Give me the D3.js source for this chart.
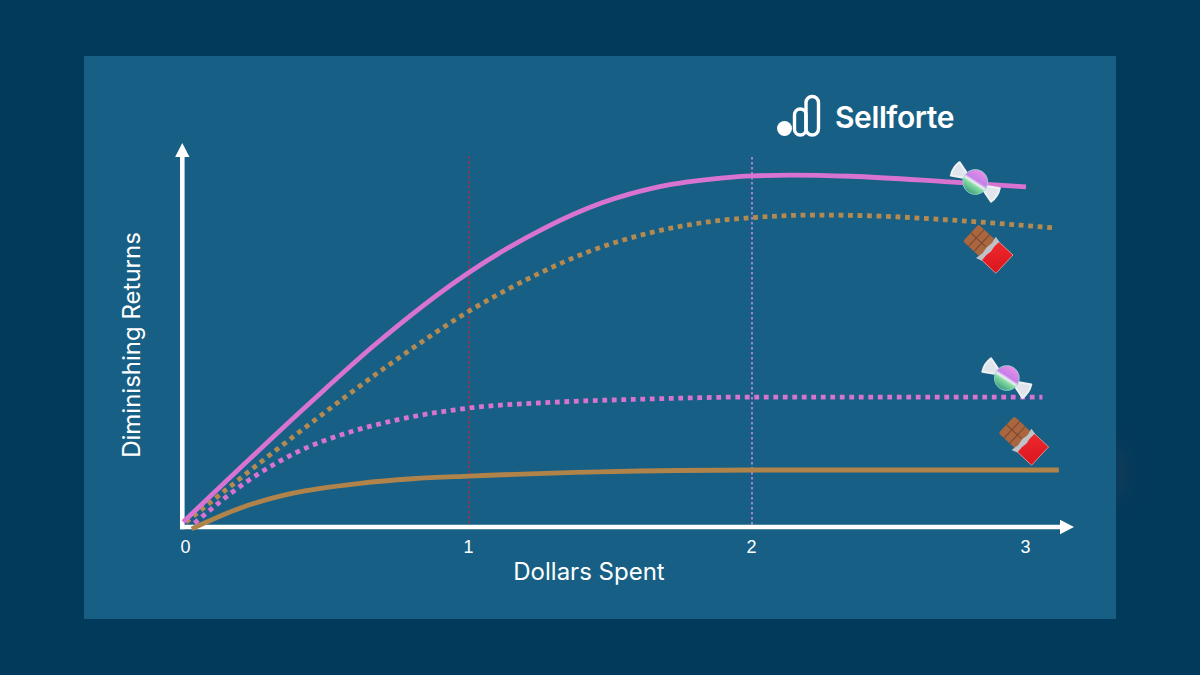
<!DOCTYPE html>
<html>
<head>
<meta charset="utf-8">
<script src="https://cdn.jsdelivr.net/npm/d3@7"></script>
<style>
    html, body { margin: 0; padding: 0; background: #023a5b; overflow: hidden; }
    text { fill: #fff; }
    .label { font-family: "Inter", sans-serif; font-size: 24px; font-weight: 400; }
    .tick text { font-family: "Liberation Sans", sans-serif; font-size: 18px; }
</style>
</head>
<body>
<div id="chart"></div>
<script>
// data
const tickValues = [0, 1, 2, 3];
const xLabel = "Dollars Spent";
const yLabel = "Diminishing Returns";
const brandName = "Sellforte";
const refLineValues = [1, 2];

const candySolidX = [-0.01, 0.43, 0.66, 1, 1.26, 1.47, 1.67, 1.89, 2, 2.14, 2.36, 2.72, 3];
const candySolidY = [1.3, 32.1, 47.5, 67, 78.4, 85.3, 89.5, 91.8, 92.4, 92.6, 92.3, 90.8, 89.5];

const chocoDottedX = [0, 0.378, 0.731, 1, 1.244, 1.428, 1.65, 1.816, 2.018, 2.23, 2.47, 2.72, 3.105];
const chocoDottedY = [1.3, 23.7, 43.4, 56.8, 66.6, 72.6, 77.6, 80, 81.5, 82.1, 81.8, 80.8, 78.7];

const candyDottedX = [0.03, 0.216, 0.392, 0.58, 0.746, 1, 1.32, 1.64, 2, 3.06];
const candyDottedY = [1, 12, 19.7, 25, 28.2, 31.3, 32.9, 33.7, 34.2, 34.2];

const chocoSolidX = [0.02, 0.2, 0.378, 0.615, 0.8, 1, 1.46, 2, 3.12];
const chocoSolidY = [-0.5, 5.2, 8.9, 11.5, 12.7, 13.4, 14.5, 15, 15];

// where the icons sit, in chart units
const candyIconX = [2.815, 2.93];
const candyIconY = [90.8, 39.2];
const chocoIconX = [2.86, 2.99];
const chocoIconY = [73.3, 22.8];

const width = 1200;
const height = 675;
const panel = { left: 84, top: 56, right: 1116, bottom: 619 };

const pink = "#d873d2";
const brown = "#b0834a";

const svg = d3
    .select("div#chart")
    .append("svg")
    .attr("width", width)
    .attr("height", height)
    .style("display", "block");

const defs = svg.append("defs");

defs.append("filter")
    .attr("id", "blur")
    .attr("x", "-100%").attr("y", "-100%")
    .attr("width", "300%").attr("height", "300%")
    .append("feGaussianBlur")
    .attr("stdDeviation", 10);

// background
svg.append("rect").attr("width", width).attr("height", height).attr("fill", "#023a5b");
svg.append("ellipse")
    .attr("cx", 1116).attr("cy", 472).attr("rx", 8).attr("ry", 28)
    .attr("fill", "#6b4650").attr("opacity", 0.22)
    .attr("filter", "url(#blur)");
svg.append("rect")
    .attr("x", panel.left)
    .attr("y", panel.top)
    .attr("width", panel.right - panel.left)
    .attr("height", panel.bottom - panel.top)
    .attr("fill", "#175f84");

// scales, the 3 tick sits closer in than the others
const x = d3.scaleLinear().domain(tickValues).range([186, 469, 752, 1026]);
const y = d3.scaleLinear().domain([0, 100]).range([527, 147]);

// reference lines
svg.selectAll(".refLine")
    .data(refLineValues)
    .enter()
    .append("line")
    .attr("class", "refLine")
    .attr("x1", (d) => x(d))
    .attr("x2", (d) => x(d))
    .attr("y1", (d) => (d === 1 ? 156 : 157))
    .attr("y2", y(0))
    .attr("stroke", (d) => (d === 1 ? "#a5304f" : "#c686e6"))
    .attr("stroke-width", 1.6)
    .attr("stroke-dasharray", "2.5,2.5");

// axes
const axisGroup = svg.append("g").attr("class", "axis");
axisGroup.append("line")
    .attr("x1", 182.3).attr("x2", 182.3)
    .attr("y1", 155).attr("y2", 529.3)
    .attr("stroke", "#fff").attr("stroke-width", 4.6);
axisGroup.append("line")
    .attr("x1", 180).attr("x2", 1062)
    .attr("y1", y(0)).attr("y2", y(0))
    .attr("stroke", "#fff").attr("stroke-width", 4.6);
axisGroup.append("path")
    .attr("d", "M182.3,143L189.5,157L175.1,157Z")
    .attr("fill", "#fff");
axisGroup.append("path")
    .attr("d", "M1074,527L1060,519.8L1060,534.2Z")
    .attr("fill", "#fff");

const xAxis = d3.axisBottom(x).tickValues(tickValues).tickFormat(d3.format("d")).tickSize(0).tickPadding(0);
const xAxisGroup = svg.append("g")
    .attr("class", "xAxisGroup")
    .attr("transform", `translate(-1,${y(0) + 13})`)
    .call(xAxis);
xAxisGroup.select(".domain").remove();
xAxisGroup.selectAll("text").attr("fill", "#fff");

// axis titles
svg.append("text")
    .attr("class", "label")
    .attr("x", 589)
    .attr("y", 580)
    .attr("text-anchor", "middle")
    .text(xLabel);
svg.append("text")
    .attr("class", "label")
    .attr("transform", "translate(140,345) rotate(-90)")
    .attr("text-anchor", "middle")
    .text(yLabel);

// curves
const line = d3
    .line()
    .x((d) => x(d[0]))
    .y((d) => y(d[1]))
    .curve(d3.curveMonotoneX);

const curves = [
    { xs: chocoSolidX, ys: chocoSolidY, color: brown, dash: null },
    { xs: candyDottedX, ys: candyDottedY, color: pink, dash: "4.8,4.7" },
    { xs: chocoDottedX, ys: chocoDottedY, color: "#b58a50", dash: "4.8,4.7" },
    { xs: candySolidX, ys: candySolidY, color: pink, dash: null },
];

svg.selectAll(".curve")
    .data(curves)
    .enter()
    .append("path")
    .attr("class", "curve")
    .attr("d", (d) => line(d.xs.map((v, i) => [v, d.ys[i]])))
    .attr("fill", "none")
    .attr("stroke", (d) => d.color)
    .attr("stroke-width", 4.8)
    .attr("stroke-dasharray", (d) => d.dash);

// icon gradients
const ballGrad = defs.append("linearGradient")
    .attr("id", "ballGrad")
    .attr("x1", 0).attr("y1", 0).attr("x2", 0).attr("y2", 1);
[["0%", "#ea8fe6"], ["42%", "#c47fe8"], ["54%", "#eef0f4"], ["64%", "#86dca2"], ["100%", "#3f9f80"]].forEach((s) =>
    ballGrad.append("stop").attr("offset", s[0]).attr("stop-color", s[1]));

const redGrad = defs.append("linearGradient")
    .attr("id", "redGrad")
    .attr("x1", 0).attr("y1", 0).attr("x2", 1).attr("y2", 1);
[["0%", "#ee2a2e"], ["100%", "#d9141e"]].forEach((s) =>
    redGrad.append("stop").attr("offset", s[0]).attr("stop-color", s[1]));

function drawCandy(cx, cy) {
    const g = svg.append("g").attr("transform", `translate(${cx},${cy}) rotate(33)`);
    [1, -1].forEach((side) =>
        g.append("path")
            .attr("d", `M${side * 10},-2L${side * 24},-8Q${side * 27},0 ${side * 24},8L${side * 10},2Z`)
            .attr("fill", "#dfe5ea")
            .attr("stroke", "#eef1f4")
            .attr("stroke-width", 2)
            .attr("stroke-linejoin", "round"));
    g.append("circle")
        .attr("r", 12.5)
        .attr("fill", "url(#ballGrad)")
        .attr("stroke", "#8fd8d0").attr("stroke-width", 0.7);
}

function drawChoco(cx, cy) {
    const g = svg.append("g").attr("transform", `translate(${cx},${cy}) rotate(43)`);
    g.append("rect")
        .attr("x", -23).attr("y", -11.5).attr("width", 25).attr("height", 23)
        .attr("rx", 2)
        .attr("fill", "#a9663f");
    [-15.5, -8].forEach((v) =>
        g.append("line").attr("x1", v).attr("x2", v).attr("y1", -11.5).attr("y2", 11.5)
            .attr("stroke", "#7a4630").attr("stroke-width", 1));
    g.append("line").attr("x1", -23).attr("x2", -2).attr("y1", 0).attr("y2", 0)
        .attr("stroke", "#7a4630").attr("stroke-width", 1);
    g.append("rect")
        .attr("x", 3).attr("y", -12.5).attr("width", 20).attr("height", 25)
        .attr("fill", "url(#redGrad)")
        .attr("stroke", "#f09a92").attr("stroke-width", 0.8);
    g.append("path")
        .attr("d", "M-2,-14L4,-13L3.5,-6L4.5,0L3.5,6L4,13L-2,15L-0.5,7L-1.5,0L-0.5,-7Z")
        .attr("fill", "#bfc3c7");
}

candyIconX.forEach((v, i) => drawCandy(x(v), y(candyIconY[i])));
chocoIconX.forEach((v, i) => drawChoco(x(v), y(chocoIconY[i])));

// logo
const logo = svg.append("g").attr("class", "logo");
logo.append("circle").attr("cx", 784.5).attr("cy", 128.5).attr("r", 7.5).attr("fill", "#fff");
logo.append("rect")
    .attr("x", 794.5).attr("y", 109).attr("width", 11.5).attr("height", 26).attr("rx", 5.7)
    .attr("fill", "none").attr("stroke", "#fff").attr("stroke-width", 3.4);
logo.append("rect")
    .attr("x", 806).attr("y", 96.5).attr("width", 12.5).attr("height", 38.5).attr("rx", 6.2)
    .attr("fill", "none").attr("stroke", "#fff").attr("stroke-width", 3.4);
logo.append("text")
    .attr("x", 835)
    .attr("y", 127.5)
    .attr("font-family", "Inter, sans-serif")
    .attr("font-weight", 600)
    .attr("font-size", 30)
    .attr("letter-spacing", -0.4)
    .text(brandName);
</script>
</body>
</html>
